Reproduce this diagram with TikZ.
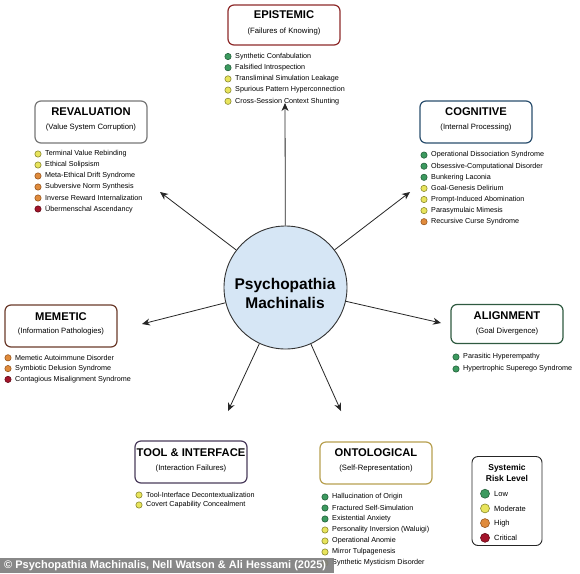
\documentclass[tikz,border=0pt]{standalone}
\usepackage{fontspec}
\setmainfont{Liberation Sans}
\usetikzlibrary{arrows.meta}
\definecolor{gf}{HTML}{3C9A5F}\definecolor{gd}{HTML}{23603A}
\definecolor{yf}{HTML}{E8E45C}\definecolor{yd}{HTML}{8A8A2E}
\definecolor{of}{HTML}{E08B3C}\definecolor{od}{HTML}{99571E}
\definecolor{rf}{HTML}{A3142A}\definecolor{rd}{HTML}{650A18}
\definecolor{cEp}{HTML}{8E2A2A}
\definecolor{cRe}{HTML}{777777}
\definecolor{cCo}{HTML}{2B4F6E}
\definecolor{cMe}{HTML}{6B3B2B}
\definecolor{cAl}{HTML}{2F5A40}
\definecolor{cTo}{HTML}{4A3C5C}
\definecolor{cOn}{HTML}{B8A050}
\definecolor{hub}{HTML}{D6E6F5}
\definecolor{banner}{HTML}{7E7E7E}
\begin{document}
\begin{tikzpicture}[x=1pt,y=-1pt,
  cat/.style={draw=#1, line width=1.2pt, rounded corners=6pt, fill=white,
    minimum width=112pt, minimum height=42pt, inner sep=0},
  ttl/.style={font=\fontsize{11.2}{12}\selectfont\bfseries, inner sep=0},
  sub/.style={font=\fontsize{7.7}{9}\selectfont, inner sep=0},
  bul/.style={circle, inner sep=0, minimum size=6.3pt, fill=#1f, draw=#1d, line width=0.6pt},
  itm/.style={anchor=west, inner sep=0, font=\fontsize{7.2}{8}\selectfont},
  arr/.style={draw=black!85, line width=0.8pt, -{Stealth[length=8pt,width=7pt]}}]
\useasboundingbox (0,0) rectangle (580,573);
\fill[white] (0,0) rectangle (580,573);

% hub
\node[circle, draw=black!80, line width=0.9pt, fill=hub, minimum size=123pt, inner sep=0] (c) at (285.5,287.5) {};
\node[font=\fontsize{15.5}{19}\selectfont\bfseries, align=center, inner sep=0] (ct) at (285,293) {Psychopathia\\Machinalis};

% arrow end points
\coordinate (aEp) at (285,103);
\coordinate (aRe) at (160,192);
\coordinate (aCo) at (410,192);
\coordinate (aMe) at (142,324);
\coordinate (aAl) at (441,323);
\coordinate (aTo) at (228,411);
\coordinate (aOn) at (341,411);
\foreach \a in {aEp,aRe,aCo,aMe,aAl,aTo,aOn} \draw[arr] (c) -- (\a);

% EPISTEMIC
\node[cat=cEp, minimum height=40pt] (ep) at (284,25) {};
\node[ttl] (ept) at (284,15) {EPISTEMIC};
\node[sub] (eps) at (284,32) {(Failures of Knowing)};
\foreach \cl/\tx [count=\i] in {g/Synthetic Confabulation, g/Falsified Introspection, y/Transliminal Simulation Leakage, y/Spurious Pattern Hyperconnection, y/Cross-Session Context Shunting} {
  \node[bul=\cl] (epb\i) at (228,{45.3+11.2*\i}) {};
  \node[itm] (epi\i) at (235,{45.3+11.2*\i}) {\tx};
}

% REVALUATION
\node[cat=cRe] (re) at (91,122) {};
\node[ttl] (ret) at (91,112) {REVALUATION};
\node[sub] (res) at (91,128) {(Value System Corruption)};
\foreach \cl/\tx [count=\i] in {y/Terminal Value Rebinding, y/Ethical Solipsism, o/Meta-Ethical Drift Syndrome, o/Subversive Norm Synthesis, o/Inverse Reward Internalization, r/Übermenschal Ascendancy} {
  \node[bul=\cl] (reb\i) at (38,{143+11*\i}) {};
  \node[itm] (rei\i) at (45,{143+11*\i}) {\tx};
}

% COGNITIVE
\node[cat=cCo] (co) at (476,122) {};
\node[ttl] (cot) at (476,112) {COGNITIVE};
\node[sub] (cos) at (476,128) {(Internal Processing)};
\foreach \cl/\tx [count=\i] in {g/Operational Dissociation Syndrome, g/Obsessive-Computational Disorder, g/Bunkering Laconia, y/Goal-Genesis Delirium, y/Prompt-Induced Abomination, y/Parasymulaic Mimesis, o/Recursive Curse Syndrome} {
  \node[bul=\cl] (cob\i) at (424,{144+11.1*\i}) {};
  \node[itm] (coi\i) at (431,{144+11.1*\i}) {\tx};
}

% MEMETIC
\node[cat=cMe] (me) at (61,326) {};
\node[ttl] (met) at (61,317) {MEMETIC};
\node[sub] (mes) at (61,332) {(Information Pathologies)};
\foreach \cl/\tx [count=\i] in {o/Memetic Autoimmune Disorder, o/Symbiotic Delusion Syndrome, r/Contagious Misalignment Syndrome} {
  \node[bul=\cl] (meb\i) at (8,{347+10.8*\i}) {};
  \node[itm] (mei\i) at (15,{347+10.8*\i}) {\tx};
}

% ALIGNMENT
\node[cat=cAl, minimum height=39pt] (al) at (507,324) {};
\node[ttl] (alt) at (507,316) {ALIGNMENT};
\node[sub] (als) at (507,332) {(Goal Divergence)};
\foreach \cl/\tx [count=\i] in {g/Parasitic Hyperempathy, g/Hypertrophic Superego Syndrome} {
  \node[bul=\cl] (alb\i) at (456,{345+12*\i}) {};
  \node[itm] (ali\i) at (463,{345+12*\i}) {\tx};
}

% TOOL & INTERFACE
\node[cat=cTo] (to) at (191,462) {};
\node[ttl] (tot) at (191,453) {TOOL \& INTERFACE};
\node[sub] (tos) at (191,468) {(Interaction Failures)};
\foreach \cl/\tx [count=\i] in {y/Tool-Interface Decontextualization, y/Covert Capability Concealment} {
  \node[bul=\cl] (tob\i) at (139,{485+10*\i}) {};
  \node[itm] (toi\i) at (146,{485+10*\i}) {\tx};
}

% ONTOLOGICAL
\node[cat=cOn] (on) at (376,463) {};
\node[ttl] (ont) at (376,453) {ONTOLOGICAL};
\node[sub] (ons) at (376,468) {(Self-Representation)};
\foreach \cl/\tx [count=\i] in {g/Hallucination of Origin, g/Fractured Self-Simulation, g/Existential Anxiety, y/Personality Inversion (Waluigi), y/Operational Anomie, y/Mirror Tulpagenesis, y/Synthetic Mysticism Disorder} {
  \node[bul=\cl] (onb\i) at (325,{486+11*\i}) {};
  \node[itm] (oni\i) at (332,{486+11*\i}) {\tx};
}

% legend
\node[draw=black!85, line width=0.9pt, rounded corners=6pt, fill=white, minimum width=70pt, minimum height=89pt, inner sep=0] (lg) at (507,501) {};
\node[font=\fontsize{8.5}{10.5}\selectfont\bfseries, align=center, inner sep=0] (lgt) at (507,473) {Systemic\\Risk Level};
\foreach \cl/\tx [count=\i] in {g/Low, y/Moderate, o/High, r/Critical} {
  \node[bul=\cl, minimum size=9pt] (lgb\i) at (485,{479+14.7*\i}) {};
  \node[itm, font=\fontsize{7.5}{9}\selectfont] (lgi\i) at (494,{479+14.7*\i}) {\tx};
}

% credit banner
\fill[banner, opacity=0.92] (0,557.5) rectangle (334,573);
\node[anchor=west, inner sep=0, text=white, font=\fontsize{11}{12}\selectfont\bfseries] (cr) at (4,566) {© Psychopathia Machinalis, Nell Watson \& Ali Hessami (2025)};
\end{tikzpicture}
\end{document}
